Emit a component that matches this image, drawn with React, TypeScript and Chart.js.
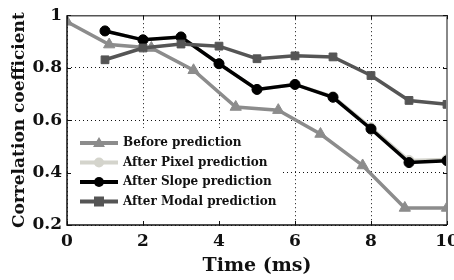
import React, { useEffect, useRef } from "react";
import { Chart, registerables } from "chart.js";

Chart.register(...registerables);

const beforeTimes = [0, 1.11, 2.22, 3.33, 4.44, 5.56, 6.67, 7.78, 8.89, 10];
const beforeValues = [0.975, 0.888, 0.875, 0.79, 0.65, 0.638, 0.547, 0.427, 0.265, 0.265];
const afterTimes = [1, 2, 3, 4, 5, 6, 7, 8, 9, 10];
const pixelValues = [0.94, 0.906, 0.917, 0.815, 0.717, 0.736, 0.69, 0.571, 0.446, 0.45];
const slopeValues = [0.94, 0.906, 0.917, 0.815, 0.717, 0.736, 0.687, 0.566, 0.438, 0.445];
const modalValues = [0.83, 0.875, 0.89, 0.882, 0.834, 0.845, 0.841, 0.77, 0.675, 0.66];
const xTicks = [0, 2, 4, 6, 8, 10];
const yTicks = [0.2, 0.4, 0.6, 0.8, 1];
const seriesNames = ["Before prediction", "After Pixel prediction", "After Slope prediction", "After Modal prediction"];
const seriesColors = ["#8c8c8c", "#d4d4cc", "#000000", "#555555"];
const seriesMarkers = ["triangle", "circle", "circle", "rect"];

const FONT = "'DejaVu Serif', serif";

const pts = (xs: number[], ys: number[]) => ys.map((y, i) => ({ x: xs[i], y }));

const boxPlugin = {
  id: "boxAndLegend",
  afterDatasetsDraw(chart: any) {
    const { ctx, chartArea } = chart;
    const { left, right, top, bottom } = chartArea;
    ctx.save();
    // legend background
    const lx = left + 1, ly = 128, lw = 215, lh = bottom - 128 - 1;
    ctx.fillStyle = "#ffffff";
    ctx.fillRect(lx, ly, lw, lh);
    ctx.font = `bold 12px ${FONT}`;
    ctx.textBaseline = "middle";
    ctx.textAlign = "left";
    seriesNames.forEach((name, i) => {
      const y = 143 + i * 19.5;
      const x0 = 80, x1 = 118;
      ctx.strokeStyle = seriesColors[i];
      ctx.lineWidth = 4;
      ctx.beginPath();
      ctx.moveTo(x0, y);
      ctx.lineTo(x1, y);
      ctx.stroke();
      const cx = (x0 + x1) / 2;
      ctx.fillStyle = seriesColors[i];
      ctx.beginPath();
      if (seriesMarkers[i] === "triangle") {
        ctx.moveTo(cx, y - 6);
        ctx.lineTo(cx + 6, y + 4);
        ctx.lineTo(cx - 6, y + 4);
        ctx.closePath();
      } else if (seriesMarkers[i] === "rect") {
        ctx.rect(cx - 5, y - 5, 10, 10);
      } else {
        ctx.arc(cx, y, 5, 0, Math.PI * 2);
      }
      ctx.fill();
      ctx.fillStyle = "#111";
      ctx.fillText(name, 123, y);
    });
    // box edges
    ctx.lineWidth = 1.5;
    ctx.strokeStyle = "#555";
    ctx.beginPath();
    ctx.moveTo(left, top + 0.5);
    ctx.lineTo(right, top + 0.5);
    ctx.stroke();
    ctx.strokeStyle = "#888";
    ctx.lineWidth = 2;
    ctx.beginPath();
    ctx.moveTo(right, top);
    ctx.lineTo(right, bottom);
    ctx.stroke();
    ctx.strokeStyle = "#111";
    ctx.lineWidth = 1.5;
    ctx.beginPath();
    ctx.moveTo(left, top);
    ctx.lineTo(left, bottom);
    ctx.lineTo(right, bottom);
    ctx.stroke();
    // inward tick marks
    const xs = chart.scales.x, ys = chart.scales.y;
    ctx.lineWidth = 1;
    ctx.strokeStyle = "#111";
    xTicks.forEach((t) => {
      const px = Math.round(xs.getPixelForValue(t)) + 0.5;
      ctx.beginPath();
      ctx.moveTo(px, bottom);
      ctx.lineTo(px, bottom - 4);
      ctx.moveTo(px, top);
      ctx.lineTo(px, top + 4);
      ctx.stroke();
    });
    yTicks.forEach((t) => {
      const py = Math.round(ys.getPixelForValue(t)) + 0.5;
      ctx.beginPath();
      ctx.moveTo(left, py);
      ctx.lineTo(left + 4, py);
      ctx.moveTo(right, py);
      ctx.lineTo(right - 4, py);
      ctx.stroke();
    });
    ctx.restore();
  },
};

export default function App() {
  const ref = useRef<HTMLCanvasElement | null>(null);
  useEffect(() => {
    if (!ref.current) return;
    const mk = (i: number, xs: number[], ys: number[], order: number, radius: number) => ({
      label: seriesNames[i],
      data: pts(xs, ys),
      borderColor: seriesColors[i],
      backgroundColor: seriesColors[i],
      pointBackgroundColor: seriesColors[i],
      pointBorderColor: seriesColors[i],
      pointStyle: seriesMarkers[i],
      pointRadius: radius,
      pointBorderWidth: 1,
      borderWidth: 3.5,
      tension: 0,
      order,
    });
    const chart = new Chart(ref.current, {
      type: "line",
      data: {
        datasets: [
          mk(0, beforeTimes, beforeValues, 4, 6.5),
          mk(1, afterTimes, pixelValues, 3, 5),
          mk(2, afterTimes, slopeValues, 2, 5),
          mk(3, afterTimes, modalValues, 1, 5.5),
        ] as any,
      },
      options: {
        responsive: false,
        animation: false,
        events: [],
        layout: { padding: { top: 13, right: 33, left: 0, bottom: 0 } },
        plugins: { legend: { display: false }, tooltip: { enabled: false } },
        scales: {
          x: {
            type: "linear",
            min: 0,
            max: 10,
            afterFit: (s: any) => { s.height = 55; },
            afterBuildTicks: (s: any) => { s.ticks = xTicks.map((v) => ({ value: v })); },
            border: { display: false, dash: [1, 3] },
            grid: { color: "#111", lineWidth: 1, drawTicks: false },
            ticks: {
              padding: 6,
              color: "#111",
              font: { family: FONT, size: 17, weight: "bold" },
              callback: (v: any) => String(v),
              maxRotation: 0,
            },
            title: {
              display: true,
              text: "Time (ms)",
              color: "#111",
              font: { family: FONT, size: 19, weight: "bold" },
              padding: { top: 0, bottom: 3 },
            },
          },
          y: {
            type: "linear",
            min: 0.2,
            max: 1,
            afterFit: (s: any) => { s.width = 67; },
            afterBuildTicks: (s: any) => { s.ticks = yTicks.map((v) => ({ value: v })); },
            border: { display: false, dash: [1, 3] },
            grid: { color: "#111", lineWidth: 1, drawTicks: false },
            ticks: {
              padding: 5,
              color: "#111",
              font: { family: FONT, size: 17, weight: "bold" },
              callback: (v: any) => (v === 1 ? "1" : Number(v).toFixed(1)),
            },
            title: {
              display: true,
              text: "Correlation coefficient",
              color: "#111",
              font: { family: FONT, size: 17, weight: "bold" },
              padding: { top: 9, bottom: 0 },
            },
          },
        },
      } as any,
      plugins: [boxPlugin],
    });
    return () => chart.destroy();
  }, []);
  return (
    <div style={{ position: "fixed", left: 0, top: 0, width: 454, height: 280, overflow: "hidden", background: "#fff" }}>
      <canvas ref={ref} width={480} height={280} style={{ display: "block" }} />
    </div>
  );
}
